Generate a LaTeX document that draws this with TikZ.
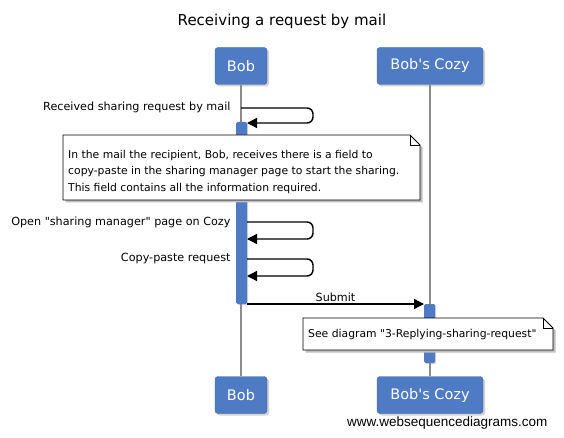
\documentclass[tikz,border=0pt]{standalone}
\usepackage{fontspec}
\setmainfont{DejaVu Sans}[Ligatures=TeXOff]
\newfontfamily\wmfont{Liberation Sans}
\usetikzlibrary{arrows.meta,shadows,positioning}
\definecolor{actorblue}{RGB}{79,122,196}
\definecolor{lifegray}{RGB}{140,140,140}
\tikzset{
  actor/.style={fill=actorblue, draw=actorblue!85!black, rounded corners=3pt,
    text=white, minimum height=37pt, font=\fontsize{14.5}{17}\selectfont,
    drop shadow={shadow xshift=2pt,shadow yshift=-2pt,opacity=0.35}},
  lifeline/.style={draw=lifegray, line width=1.3pt},
  activebar/.style={fill=actorblue, rounded corners=1.5pt,
    drop shadow={shadow xshift=1pt,shadow yshift=-1pt,opacity=0.3}},
  msg/.style={line width=1.4pt, -{Triangle[length=10pt,width=10pt]}},
  selfmsg/.style={msg, rounded corners=6pt},
  msglabel/.style={font=\fontsize{11.2}{13}\selectfont},
  notetext/.style={inner sep=0pt, align=left, font=\fontsize{10.8}{16.5}\selectfont},
  noteshadow/.style={fill=black!25},
  noteframe/.style={fill=white, draw=black, line width=0.8pt},
}
\begin{document}
\begin{tikzpicture}[x=1pt,y=-1pt]
  \useasboundingbox[fill=white] (0,0) rectangle (564,438);

  % title
  \node[font=\fontsize{15}{18}\selectfont] (title) at (282,21) {Receiving a request by mail};

  % participants
  \node[actor, minimum width=52pt] (bobtop) at (241,66) {Bob};
  \node[actor, minimum width=106pt] (cozytop) at (430,66) {Bob's Cozy};
  \node[actor, minimum width=52pt] (bobbot) at (241,395) {Bob};
  \node[actor, minimum width=106pt] (cozybot) at (430,395) {Bob's Cozy};

  \draw[lifeline] (bobtop.south) -- (bobbot.north);
  \draw[lifeline] (cozytop.south) -- (cozybot.north);

  % activations
  \path[activebar] (236,122) rectangle (247,304);
  \path[activebar] (424,304) rectangle (435,363);

  % self messages
  \coordinate (m1a) at (241,108);
  \coordinate (m1b) at (313,108);
  \coordinate (m1c) at (313,123);
  \coordinate (m1d) at (247,123);
  \draw[selfmsg] (m1a) -- (m1b) -- (m1c) -- (m1d);
  \node[msglabel, anchor=east] (m1lbl) at (234,107) {Received sharing request by mail};

  \coordinate (m2a) at (247,222);
  \coordinate (m2b) at (313,222);
  \coordinate (m2c) at (313,239);
  \coordinate (m2d) at (247,239);
  \draw[selfmsg] (m2a) -- (m2b) -- (m2c) -- (m2d);
  \node[msglabel, anchor=east] (m2lbl) at (234,222) {Open "sharing manager" page on Cozy};

  \coordinate (m3a) at (247,259);
  \coordinate (m3b) at (313,259);
  \coordinate (m3c) at (313,276);
  \coordinate (m3d) at (247,276);
  \draw[selfmsg] (m3a) -- (m3b) -- (m3c) -- (m3d);
  \node[msglabel, anchor=east] (m3lbl) at (234,259) {Copy-paste request};

  % submit
  \coordinate (m4a) at (247,304);
  \coordinate (m4b) at (424,304);
  \draw[msg] (m4a) -- (m4b) node[msglabel, midway, above=-2pt] (m4lbl) {Submit};

  % notes
  \coordinate (n1nw) at (63,135);
  \coordinate (n1se) at (420,200);
  \coordinate (n2nw) at (303,318);
  \coordinate (n2se) at (553,350);
  \foreach \n in {n1,n2} {
    \fill[noteshadow] ([shift={(2.5pt,-2.5pt)}]\n nw) -- ([shift={(-7.5pt,-2.5pt)}]\n nw -| \n se)
      -- ([shift={(2.5pt,-12.5pt)}]\n nw -| \n se) -- ([shift={(2.5pt,-2.5pt)}]\n se)
      -- ([shift={(2.5pt,-2.5pt)}]\n se -| \n nw) -- cycle;
    \filldraw[noteframe] (\n nw) -- ([xshift=-10pt]\n nw -| \n se)
      -- ([yshift=-10pt]\n nw -| \n se) -- (\n se) -- (\n se -| \n nw) -- cycle;
    \draw[line width=0.8pt] ([xshift=-10pt]\n nw -| \n se) -- ([shift={(-10pt,-10pt)}]\n nw -| \n se)
      -- ([yshift=-10pt]\n nw -| \n se);
  }
  \node[notetext, anchor=north west] (note1) at (68,150)
    {In the mail the recipient, Bob, receives there is a field to\\
     copy-paste in the sharing manager page to start the sharing.\\
     This field contains all the information required.};
  \node[notetext, anchor=west] (note2) at (308,335)
    {See diagram "3-Replying-sharing-request"};

  % watermark
  \node[font=\wmfont\fontsize{13.5}{16}\selectfont, anchor=east] (wm) at (551,423) {www.websequencediagrams.com};
\end{tikzpicture}
\end{document}
